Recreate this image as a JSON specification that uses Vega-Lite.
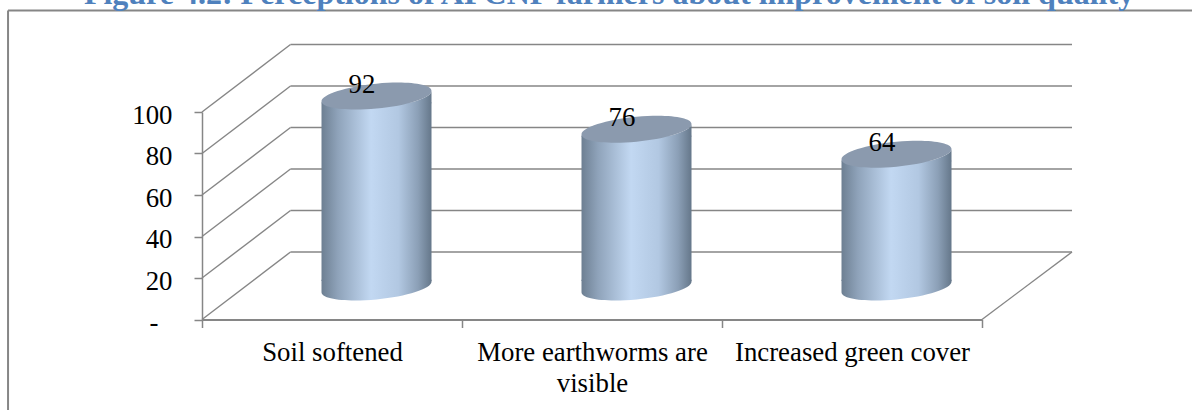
{
"$schema":"https://vega.github.io/schema/vega-lite/v6.json",
"autosize":"none",
"padding":{"left":202,"top":112,"right":210,"bottom":90.5},
"width":780,"height":207.5,
"background":"white",
"title":{"text":"Figure 4.2: Perceptions of APCNF farmers about improvement of soil quality","font":"Liberation Serif","fontSize":32,"fontWeight":"bold","color":"#4f81bd","anchor":"middle","frame":"group","dx":17,"offset":-1,"limit":1190},
"config":{"view":{"stroke":null},"font":"Liberation Serif"},
"datasets":{
"cats":[{"category":"Soil softened","value":92},{"category":"More earthworms are visible","value":76},{"category":"Increased green cover","value":64}],
"ticks":[{"tick":0},{"tick":20},{"tick":40},{"tick":60},{"tick":80},{"tick":100}]
},
"resolve":{"scale":{"x":"independent"}},
"layer":[
{"data":{"name":"ticks"},"mark":{"type":"rule","stroke":"#868686","strokeWidth":1.6,"xOffset":88.5,"x2Offset":90,"yOffset":-67.5,"y2Offset":-67.5},
"encoding":{"x":{"datum":0,"type":"quantitative","scale":{"domain":[0,3],"nice":false},"axis":null},"x2":{"datum":3},"y":{"field":"tick","type":"quantitative","scale":{"domain":[0,100],"nice":false}},"y2":{"field":"tick"}}},
{"data":{"name":"ticks"},"mark":{"type":"rule","stroke":"#868686","strokeWidth":1.4,"x2Offset":88.5,"y2Offset":-67.5},
"encoding":{"x":{"datum":0,"type":"quantitative","scale":{"domain":[0,3],"nice":false},"axis":null},"x2":{"datum":0},"y":{"field":"tick","type":"quantitative","scale":{"domain":[0,100],"nice":false}},"y2":{"field":"tick"}}},
{"data":{"values":[{"tick":0}]},"mark":{"type":"rule","stroke":"#868686","strokeWidth":1.4,"x2Offset":90,"y2Offset":-67.5},
"encoding":{"x":{"datum":3,"type":"quantitative","scale":{"domain":[0,3],"nice":false},"axis":null},"x2":{"datum":3},"y":{"field":"tick","type":"quantitative","scale":{"domain":[0,100],"nice":false}},"y2":{"field":"tick"}}},
{"data":{"values":[{"a":-0.746,"b":148.9,"c":-44}]},"mark":{"type":"rule","stroke":"#868686","strokeWidth":2},
"encoding":{"x":{"field":"a","type":"quantitative","scale":{"domain":[0,3],"nice":false},"axis":null},"y":{"field":"b","type":"quantitative","scale":{"domain":[0,100],"nice":false}},"y2":{"field":"c"}}},
{"data":{"values":[{"a":-0.746,"a2":3.81,"b":148.9}]},"mark":{"type":"rule","stroke":"#868686","strokeWidth":2},
"encoding":{"x":{"field":"a","type":"quantitative","scale":{"domain":[0,3],"nice":false},"axis":null},"x2":{"field":"a2"},"y":{"field":"b","type":"quantitative","scale":{"domain":[0,100],"nice":false}}}},
{"data":{"name":"cats"},"mark":{"type":"point","filled":true,"opacity":1,"size":12100,"xOffset":44.5,"yOffset":-32.5,"strokeWidth":0,
"shape":"M1,-0.13 L1,-0.095 C1,0.0298 .5523,.1735 0,.226 C-.5523,.2785 -1,.2198 -1,.095 L-1,-0.13 Z",
"fill":{"gradient":"linear","x1":0,"x2":1,"y1":0,"y2":0,"stops":[{"offset":0,"color":"#6d7f92"},{"offset":0.15,"color":"#8fa3ba"},{"offset":0.45,"color":"#c2d8f2"},{"offset":0.7,"color":"#b2c8e2"},{"offset":0.88,"color":"#8b9fb6"},{"offset":1,"color":"#65778a"}]}},
"encoding":{"x":{"field":"category","type":"nominal","sort":null,"scale":{"paddingInner":0,"paddingOuter":0},
"axis":{"title":null,"labelAngle":0,"labelFontSize":26.8,"labelFont":"Liberation Serif","labelColor":"#000000","labelLimit":0,"labelPadding":12,"tickBand":"extent","tickSize":8,"tickColor":"#868686","tickWidth":1.5,"domainColor":"#868686","domainWidth":2,"grid":false,"labelLineHeight":31,"labelExpr":"datum.label == 'More earthworms are visible' ? ['More earthworms are','visible'] : datum.label"}},
"y":{"datum":0,"type":"quantitative","scale":{"domain":[0,100],"nice":false},
"axis":{"title":null,"values":[0,20,40,60,80,100],"grid":false,"labelFontSize":26.8,"labelFont":"Liberation Serif","labelColor":"#000000","labelPadding":{"condition":{"test":"datum.value == 0","value":36},"value":22},"labelOffset":3,"tickSize":8,"tickColor":"#868686","tickWidth":1.5,"domainColor":"#868686","domainWidth":1.5,"labelExpr":"datum.value == 0 ? '-' : datum.label"}}}},
{"data":{"name":"cats"},"mark":{"type":"bar","size":110,"xOffset":44.5,"yOffset":-26,"y2Offset":-38.5,
"fill":{"gradient":"linear","x1":0,"x2":1,"y1":0,"y2":0,"stops":[{"offset":0,"color":"#6d7f92"},{"offset":0.15,"color":"#8fa3ba"},{"offset":0.45,"color":"#c2d8f2"},{"offset":0.7,"color":"#b2c8e2"},{"offset":0.88,"color":"#8b9fb6"},{"offset":1,"color":"#65778a"}]}},
"encoding":{"x":{"field":"category","type":"nominal","sort":null,"scale":{"paddingInner":0,"paddingOuter":0},"axis":null},"y":{"field":"value","type":"quantitative","scale":{"domain":[0,100],"nice":false}},"y2":{"datum":0}}},
{"data":{"name":"cats"},"mark":{"type":"point","filled":true,"opacity":1,"size":12100,"xOffset":44.5,"yOffset":-32.5,"strokeWidth":0,
"shape":"M1,-0.095 C1,0.0298 .5523,.1735 0,.226 C-.5523,.2785 -1,.2198 -1,.095 L-1,0.13 L1,0.13 Z",
"fill":{"gradient":"linear","x1":0,"x2":1,"y1":0,"y2":0,"stops":[{"offset":0,"color":"#6d7f92"},{"offset":0.15,"color":"#8fa3ba"},{"offset":0.45,"color":"#c2d8f2"},{"offset":0.7,"color":"#b2c8e2"},{"offset":0.88,"color":"#8b9fb6"},{"offset":1,"color":"#65778a"}]}},
"encoding":{"x":{"field":"category","type":"nominal","sort":null,"scale":{"paddingInner":0,"paddingOuter":0},"axis":null},"y":{"field":"value","type":"quantitative","scale":{"domain":[0,100],"nice":false}}}},
{"data":{"name":"cats"},"mark":{"type":"point","filled":true,"opacity":1,"size":12100,"xOffset":44.5,"yOffset":-32.5,"strokeWidth":0,"color":"#8b9aae",
"shape":"M1,-0.095 C1,0.0298 .5523,.1735 0,.226 C-.5523,.2785 -1,.2198 -1,.095 C-1,-.0298 -.5523,-.1735 0,-.226 C.5523,-.2785 1,-.2198 1,-.095 Z"},
"encoding":{"x":{"field":"category","type":"nominal","sort":null,"scale":{"paddingInner":0,"paddingOuter":0},"axis":null},"y":{"field":"value","type":"quantitative","scale":{"domain":[0,100],"nice":false}}}},
{"data":{"name":"cats"},"mark":{"type":"text","font":"Liberation Serif","fontSize":26.8,"color":"#000000","baseline":"middle","align":"center","xOffset":30,"yOffset":-44},
"encoding":{"x":{"field":"category","type":"nominal","sort":null,"scale":{"paddingInner":0,"paddingOuter":0},"axis":null},"y":{"field":"value","type":"quantitative","scale":{"domain":[0,100],"nice":false}},"text":{"field":"value","type":"quantitative"}}}
]
}
